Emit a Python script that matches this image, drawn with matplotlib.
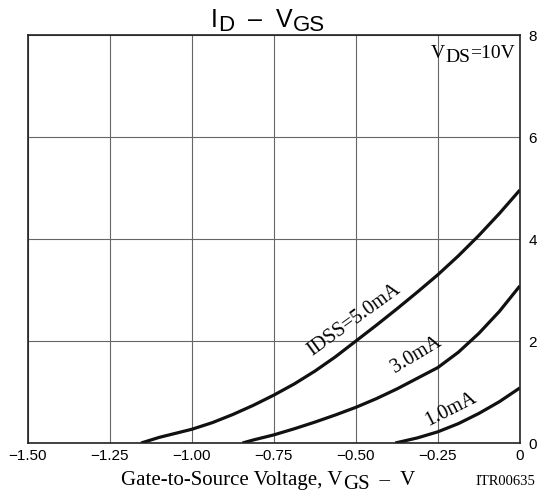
import matplotlib
matplotlib.use("Agg")
import matplotlib.pyplot as plt

plt.rcParams['font.family'] = ['Liberation Sans', 'DejaVu Sans']
plt.rcParams['axes.unicode_minus'] = True

# curves (VGS in V, ID in mA)
vgs_5 = [-1.155, -1.1, -1.0, -0.9375, -0.875, -0.8125, -0.75, -0.6875, -0.625, -0.5625, -0.5,
         -0.4375, -0.375, -0.3125, -0.25, -0.1875, -0.125, -0.0625, 0.0]
id_5 = [0.0, 0.11, 0.27, 0.40, 0.56, 0.74, 0.94, 1.16, 1.41, 1.69, 2.0,
        2.31, 2.63, 2.96, 3.30, 3.67, 4.07, 4.50, 4.96]
vgs_3 = [-0.846, -0.8125, -0.75, -0.6875, -0.625, -0.5625, -0.5, -0.4375, -0.375, -0.3125,
         -0.25, -0.1875, -0.125, -0.0625, 0.0]
id_3 = [0.0, 0.06, 0.16, 0.28, 0.41, 0.55, 0.70, 0.87, 1.06, 1.27,
        1.48, 1.78, 2.15, 2.58, 3.08]
vgs_1 = [-0.38, -0.3125, -0.25, -0.1875, -0.125, -0.0625, 0.0]
id_1 = [0.0, 0.10, 0.22, 0.38, 0.58, 0.81, 1.08]

x_ticks = [-1.5, -1.25, -1.0, -0.75, -0.5, -0.25, 0.0]
x_labels = ['\u22121.50', '\u22121.25', '\u22121.00', '\u22120.75', '\u22120.50', '\u22120.25', '0']
y_ticks = [0, 2, 4, 6, 8]

serif = 'Liberation Serif'

fig = plt.figure(figsize=(5.37, 4.93), dpi=100)
ax = fig.add_axes([0.0521, 0.1014, 0.916, 0.8276])

for v, i in [(vgs_5, id_5), (vgs_3, id_3), (vgs_1, id_1)]:
    ax.plot(v, i, color='#111111', lw=2.3, solid_capstyle='butt', solid_joinstyle='round')

ax.set_xlim(-1.5, 0)
ax.set_ylim(0, 8)
ax.set_xticks(x_ticks)
ax.set_xticklabels(x_labels, fontsize=11)
ax.set_yticks(y_ticks)
ax.yaxis.tick_right()
ax.tick_params(axis='both', length=0, labelsize=11, pad=4)
ax.tick_params(axis='y', pad=6)
ax.grid(True, color='#666666', lw=0.8)
for s in ax.spines.values():
    s.set_linewidth(1.2)
    s.set_color('#222222')


# text made of pieces, subscripts are lowered but nearly full size
def chain(x, y, parts, family):
    prev = fig.text(x, y, parts[0][0], fontsize=parts[0][2], family=family, ha='left', va='bottom')
    prev_off = parts[0][1]
    for s, off, fs in parts[1:]:
        prev = ax.annotate(s, xy=(1, 0), xycoords=prev, xytext=(0, off - prev_off),
                           textcoords='offset points', fontsize=fs, family=family,
                           ha='left', va='bottom', annotation_clip=False)
        prev_off = off


chain(0.393, 0.936, [('I', 0, 18), ('D', -3.5, 16), ('  \u2013  V', 0, 18), ('GS', -3.5, 16)],
      'Liberation Sans')
chain(0.803, 0.874, [('V', 0, 14), ('DS', -3, 14), ('=10V', 0, 14)], serif)
chain(0.226, 0.006, [('Gate-to-Source Voltage, V', 0, 15), ('GS', -3, 15), ('  \u2013  V', 0, 15)],
      serif)
fig.text(0.996, 0.016, 'ITR00635', ha='right', va='baseline', fontsize=10.5, family=serif)

ax.text(-0.505, 2.42, 'IDSS=5.0mA', ha='center', va='center', fontsize=14.5,
        family=serif, rotation=36, rotation_mode='anchor')
ax.text(-0.317, 1.72, '3.0mA', ha='center', va='center', fontsize=14.5, family=serif,
        rotation=31, rotation_mode='anchor')
ax.text(-0.21, 0.65, '1.0mA', ha='center', va='center', fontsize=14.5, family=serif,
        rotation=27, rotation_mode='anchor')

fig.savefig('out.png', dpi=100)
